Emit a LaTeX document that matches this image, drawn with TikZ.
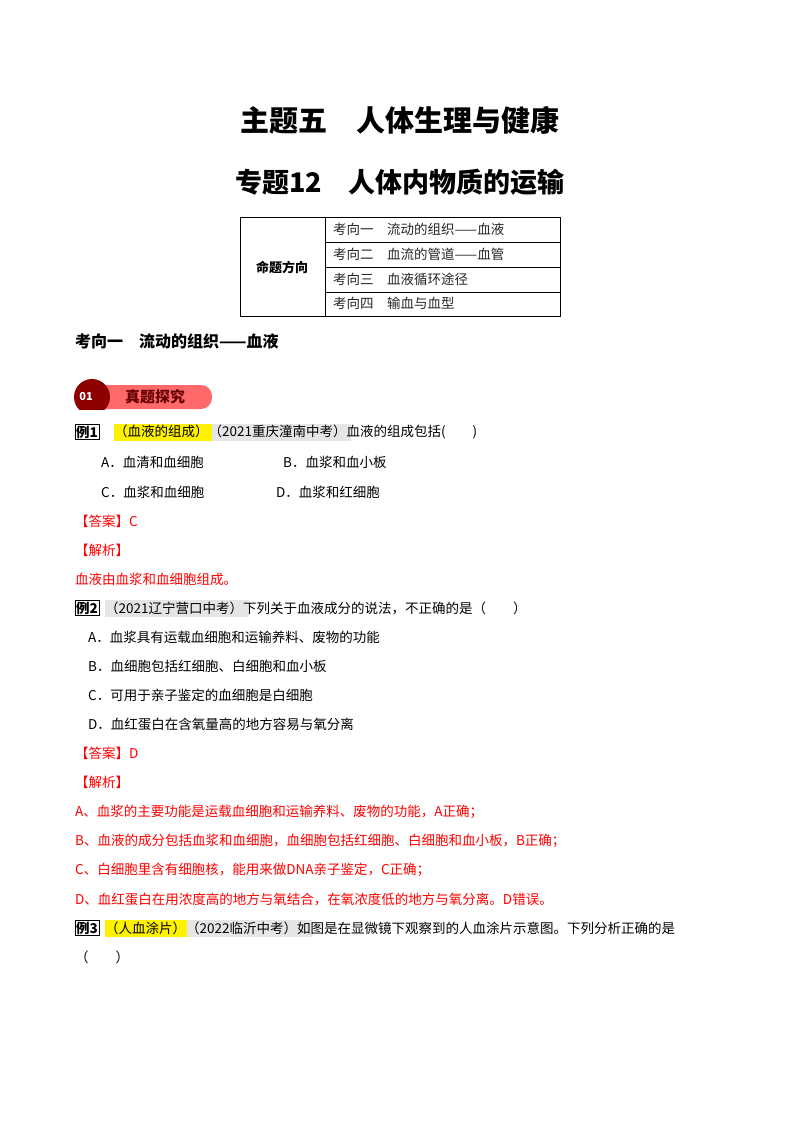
\documentclass[tikz,border=0pt]{standalone}
\usepackage{fontspec}
\setmainfont{Noto Sans CJK SC}
\begin{document}
\begin{tikzpicture}[x=1pt,y=-1pt,
  t/.style={anchor=west,inner sep=0pt,font=\fontsize{13.5}{13.5}\selectfont},
  r/.style={t,text=red},
  cell/.style={anchor=west,inner sep=0pt,font=\fontsize{13.5}{13.5}\selectfont,text=black!85}]
\useasboundingbox[fill=white] (0,0) rectangle (800,1132);
\node (h1) at (400,120) {\fontsize{29}{29}\selectfont\bfseries 主题五\quad 人体生理与健康};
\node (h2) at (400,182) {\fontsize{27}{27}\selectfont\bfseries 专题12\quad 人体内物质的运输};
% table
\draw[line width=0.8pt] (240,217) rectangle (560,316);
\draw[line width=0.6pt] (325,217) -- (325,316);
\foreach \yy in {242,267,292} \draw[line width=0.6pt] (325,\yy) -- (560,\yy);
\node[font=\fontsize{13}{13}\selectfont\bfseries] (tk) at (282,267) {命题方向};
\node[cell] (c1) at (333,229) {考向一\quad 流动的组织——血液};
\node[cell] (c2) at (333,254) {考向二\quad 血流的管道——血管};
\node[cell] (c3) at (333,279) {考向三\quad 血液循环途径};
\node[cell] (c4) at (333,303) {考向四\quad 输血与血型};
\node[t,font=\fontsize{16}{16}\selectfont\bfseries] (sec) at (75,341) {考向一\quad 流动的组织——血液};
% banner
\fill[red!45!pink,rounded corners=11pt] (85,385) rectangle (212,409);
\fill[red!55!black] (92,397) circle[radius=18];
\fill[white] (68,410) rectangle (112,420);
\node[text=white,font=\fontsize{11}{11}\selectfont\bfseries] (b01) at (86,397) {01};
\node[font=\fontsize{15}{15}\selectfont\bfseries,text=red!40!black] (bt) at (155,397) {真题探究};
% example 1
\node[t,draw,inner sep=1pt,font=\fontsize{13.5}{13.5}\selectfont\bfseries] (e1) at (75,432) {例1};
\fill[yellow] (114,424) rectangle (212,441);
\fill[black!10] (212,424) rectangle (351,441);
\node[t] (e1t) at (114,432) {（血液的组成）（2021重庆潼南中考）血液的组成包括(\qquad )};
\node[t] (e1a) at (101,462) {A．血清和血细胞};
\node[t] (e1b) at (283,462) {B．血浆和血小板};
\node[t] (e1c) at (101,492) {C．血浆和血细胞};
\node[t] (e1d) at (276,492) {D．血浆和红细胞};
\node[r] (a1) at (75,521) {【答案】C};
\node[r] (j1) at (75,550) {【解析】};
\node[r] (x1) at (75,579) {血液由血浆和血细胞组成。};
% example 2
\node[t,draw,inner sep=1pt,font=\fontsize{13.5}{13.5}\selectfont\bfseries] (e2) at (75,608) {例2};
\fill[black!10] (105,600) rectangle (249,617);
\node[t] (e2t) at (105,608) {（2021辽宁营口中考）下列关于血液成分的说法，不正确的是（\qquad ）};
\node[t] (e2a) at (88,637) {A．血浆具有运载血细胞和运输养料、废物的功能};
\node[t] (e2b) at (88,666) {B．血细胞包括红细胞、白细胞和血小板};
\node[t] (e2c) at (88,695) {C．可用于亲子鉴定的血细胞是白细胞};
\node[t] (e2d) at (88,724) {D．血红蛋白在含氧量高的地方容易与氧分离};
\node[r] (a2) at (75,753) {【答案】D};
\node[r] (j2) at (75,782) {【解析】};
\node[r] (x2a) at (75,812) {A、血浆的主要功能是运载血细胞和运输养料、废物的功能，A正确；};
\node[r] (x2b) at (75,841) {B、血液的成分包括血浆和血细胞，血细胞包括红细胞、白细胞和血小板，B正确；};
\node[r] (x2c) at (75,870) {C、白细胞里含有细胞核，能用来做DNA亲子鉴定，C正确；};
\node[r] (x2d) at (75,899) {D、血红蛋白在用浓度高的地方与氧结合，在氧浓度低的地方与氧分离。D错误。};
% example 3
\node[t,draw,inner sep=1pt,font=\fontsize{13.5}{13.5}\selectfont\bfseries] (e3) at (75,928) {例3};
\fill[yellow] (105,920) rectangle (187,937);
\fill[black!10] (187,920) rectangle (312,937);
\node[t] (e3t) at (105,928) {（人血涂片）（2022临沂中考）如图是在显微镜下观察到的人血涂片示意图。下列分析正确的是};
\node[t] (e3p) at (75,957) {（\qquad ）};
\end{tikzpicture}
\end{document}
